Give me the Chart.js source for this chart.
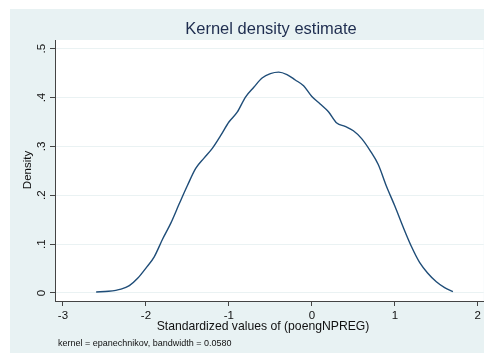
<!DOCTYPE html>
<html>
<head>
<meta charset="utf-8">
<script src="https://cdn.jsdelivr.net/npm/chart.js@4"></script>
<style>
  html, body { margin: 0; padding: 0; background: #ffffff; }
  #wrap { width: 484px; height: 355px; position: relative; }
</style>
</head>
<body>
<div id="wrap"><canvas id="c" width="484" height="355"></canvas></div>
<script>
// Data
const xValues = [-2.6, -2.45, -2.3, -2.2, -2.1, -2.0, -1.9, -1.8, -1.7, -1.6, -1.5, -1.4, -1.3, -1.2, -1.1, -1.0, -0.9, -0.8, -0.7, -0.6, -0.5, -0.4, -0.3, -0.2, -0.1, 0.0, 0.1, 0.2, 0.3, 0.4, 0.5, 0.6, 0.7, 0.8, 0.9, 1.0, 1.1, 1.2, 1.3, 1.4, 1.5, 1.6, 1.7];
const densityValues = [0.002, 0.0035, 0.008, 0.015, 0.03, 0.051, 0.074, 0.11, 0.143, 0.182, 0.220, 0.255, 0.276, 0.296, 0.322, 0.350, 0.370, 0.401, 0.421, 0.440, 0.449, 0.452, 0.447, 0.436, 0.424, 0.402, 0.387, 0.371, 0.348, 0.341, 0.332, 0.316, 0.292, 0.263, 0.218, 0.178, 0.135, 0.095, 0.062, 0.040, 0.023, 0.011, 0.003];
const xTicks = [-3, -2, -1, 0, 1, 2];
const yTicks = [0, 0.1, 0.2, 0.3, 0.4, 0.5];
const titleText = 'Kernel density estimate';
const xTitleText = 'Standardized values of (poengNPREG)';
const yTitleText = 'Density';
const noteText = 'kernel = epanechnikov, bandwidth = 0.0580';

const FONT = '"Liberation Sans", Arial, Helvetica, sans-serif';
const points = xValues.map((x, i) => ({ x: x, y: densityValues[i] }));

const decor = {
  id: 'decor',
  beforeDraw(chart) {
    const ctx = chart.ctx;
    const a = chart.chartArea;
    ctx.save();
    ctx.fillStyle = '#ffffff';
    ctx.fillRect(0, 0, chart.width, chart.height);
    ctx.fillStyle = '#e8f2f3';
    ctx.fillRect(10, 9, chart.width - 10, 344);
    ctx.fillStyle = '#ffffff';
    ctx.fillRect(a.left, a.top, a.right - a.left, a.bottom - a.top);
    ctx.restore();
  },
  afterDraw(chart) {
    const ctx = chart.ctx;
    ctx.save();
    ctx.fillStyle = '#1e2d4f';
    ctx.font = '16.5px ' + FONT;
    ctx.textAlign = 'center';
    ctx.textBaseline = 'middle';
    ctx.fillText(titleText, 271, 29);
    ctx.fillStyle = '#111111';
    ctx.font = '12.2px ' + FONT;
    ctx.fillText(xTitleText, 263, 327);
    ctx.font = '9px ' + FONT;
    ctx.textAlign = 'left';
    ctx.fillText(noteText, 58, 344);
    ctx.translate(28, 170);
    ctx.rotate(-Math.PI / 2);
    ctx.textAlign = 'center';
    ctx.font = '11.5px ' + FONT;
    ctx.fillText(yTitleText, 0, 0);
    ctx.restore();
  }
};

new Chart(document.getElementById('c'), {
  type: 'line',
  data: {
    datasets: [{
      data: points,
      borderColor: '#1f4d78',
      borderWidth: 1.4,
      pointRadius: 0,
      tension: 0.4,
      cubicInterpolationMode: 'monotone',
      fill: false
    }]
  },
  options: {
    responsive: false,
    animation: false,
    events: [],
    layout: { padding: { top: 40, left: 10, right: 0, bottom: 2 } },
    plugins: { legend: { display: false }, title: { display: false }, tooltip: { enabled: false } },
    scales: {
      x: {
        type: 'linear',
        min: -3.096,
        max: 2.072,
        afterBuildTicks: s => { s.ticks = xTicks.map(v => ({ value: v })); },
        afterFit: s => { s.height = 52; },
        grid: { drawOnChartArea: false, tickLength: 5, tickColor: '#444444', tickWidth: 1 },
        border: { color: '#444444', width: 1 },
        ticks: {
          padding: 3,
          color: '#111111',
          font: { family: FONT, size: 11.5 },
          maxRotation: 0,
          callback: v => String(v)
        },
        title: { display: false }
      },
      y: {
        type: 'linear',
        min: -0.0164,
        max: 0.5178,
        afterBuildTicks: s => { s.ticks = yTicks.map(v => ({ value: v })); },
        afterFit: s => { s.width = 45; },
        grid: { color: '#eaf2f3', lineWidth: 1, tickLength: 5, tickColor: '#444444', tickWidth: 1 },
        border: { color: '#444444', width: 1 },
        ticks: {
          minRotation: 90,
          maxRotation: 90,
          crossAlign: 'center',
          padding: 3,
          color: '#111111',
          font: { family: FONT, size: 11.5 },
          callback: v => v === 0 ? '0' : String(Math.round(v * 10) / 10).replace(/^0/, '')
        },
        title: { display: false }
      }
    }
  },
  plugins: [decor]
});
</script>
</body>
</html>
